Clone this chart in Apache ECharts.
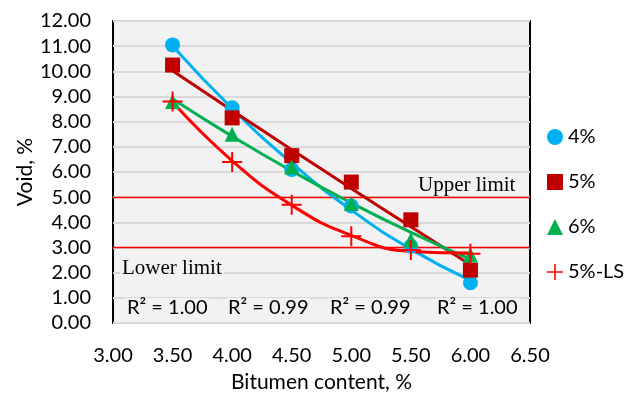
<!DOCTYPE html>
<html><head><meta charset="utf-8">
<script src="https://cdn.jsdelivr.net/npm/echarts@6/dist/echarts.min.js"></script>
<style>html,body{margin:0;padding:0;background:#fff}#c{width:630px;height:398px}</style>
</head><body><div id="c"></div>
<script>
const bitumen = [3.5, 4.0, 4.5, 5.0, 5.5, 6.0];
const void4 = [11.05, 8.55, 6.1, 4.65, 3.05, 1.6];
const void5 = [10.25, 8.15, 6.65, 5.6, 4.1, 2.1];
const void6 = [8.8, 7.5, 6.2, 4.75, 3.3, 2.7];
const void5LS = [8.8, 6.4, 4.7, 3.45, 2.9, 2.75];
const seriesNames = ['4%', '5%', '6%', '5%-LS'];
const r2Labels = ['R² = 1.00', 'R² = 0.99', 'R² = 0.99', 'R² = 1.00'];
const limits = [5, 3];
const limitLabels = ['Upper limit', 'Lower limit'];

function polyfit2(xs, ys) {
  let n = xs.length, sx=0, sx2=0, sx3=0, sx4=0, sy=0, sxy=0, sx2y=0;
  for (let i=0;i<n;i++){const x=xs[i],y=ys[i];sx+=x;sx2+=x*x;sx3+=x*x*x;sx4+=x*x*x*x;sy+=y;sxy+=x*y;sx2y+=x*x*y;}
  const A=[[n,sx,sx2,sy],[sx,sx2,sx3,sxy],[sx2,sx3,sx4,sx2y]];
  for(let i=0;i<3;i++){for(let k=i+1;k<3;k++){const f=A[k][i]/A[i][i];for(let j=i;j<4;j++)A[k][j]-=f*A[i][j];}}
  const c=[0,0,0];
  for(let i=2;i>=0;i--){let s=A[i][3];for(let j=i+1;j<3;j++)s-=A[i][j]*c[j];c[i]=s/A[i][i];}
  return xs.map(x=>[x, c[0]+c[1]*x+c[2]*x*x]);
}

const colors = ['#00b0f0', '#c00000', '#00b050', '#ff0000'];
const symbols = ['circle', 'rect', 'triangle', 'path://M9,0 H11 V9 H20 V11 H11 V20 H9 V11 H0 V9 H9 Z'];
const sizes = [15, 15, 15, 20];
const allData = [void4, void5, void6, void5LS];

const chart = echarts.init(document.getElementById('c'));
const series = [];
allData.forEach((d, i) => {
  series.push({
    type: 'line', name: 'fit' + i, data: polyfit2(bitumen, d), smooth: true,
    showSymbol: false, lineStyle: {color: colors[i], width: 3}, z: 2, silent: true
  });
});
allData.forEach((d, i) => {
  series.push({
    type: 'scatter', name: seriesNames[i], data: bitumen.map((x, j) => [x, d[j]]),
    symbol: symbols[i], symbolSize: sizes[i], itemStyle: {color: colors[i], opacity: 1}, z: 3 + i
  });
});
series.push({
  type: 'scatter', name: 'limits', data: [], silent: true, z: 1,
  markLine: {
    symbol: 'none', silent: true, animation: false, z: 1,
    lineStyle: {color: '#ff0000', width: 1.3, type: 'solid', opacity: 1},
    label: {show: false},
    data: limits.map(v => ({yAxis: v}))
  }
});

const font = 'Lato, "Open Sans", sans-serif';
const bg = '#f2f2f2';
const txt = (s, x, y, f) => ({type: 'text', x: x, y: y, z: 20,
  style: {text: s, font: f, fill: '#000', textVerticalAlign: 'middle', backgroundColor: bg, padding: [0, 2]}});
chart.setOption({
  animation: false,
  grid: {left: 113, right: 100, top: 21, bottom: 73, show: true, backgroundColor: bg, borderColor: '#000', borderWidth: 2},
  xAxis: {
    type: 'value', min: 3, max: 6.5, interval: 0.5,
    name: 'Bitumen content, %', nameLocation: 'middle', nameGap: 49, nameMoveOverlap: false,
    nameTextStyle: {fontSize: 21, color: '#000', fontFamily: font},
    axisLine: {show: false}, axisTick: {show: false}, splitLine: {show: false},
    axisLabel: {formatter: v => v.toFixed(2), fontSize: 20, color: '#000', fontFamily: font, margin: 23}
  },
  yAxis: {
    type: 'value', min: 0, max: 12, interval: 1,
    name: 'Void, %', nameLocation: 'middle', nameGap: 77, nameMoveOverlap: false,
    nameTextStyle: {fontSize: 21, color: '#000', fontFamily: font},
    axisLine: {show: false}, axisTick: {show: false},
    splitLine: {lineStyle: {color: '#d9d9d9', width: 2}},
    axisLabel: {formatter: v => v.toFixed(2), fontSize: 20, color: '#000', fontFamily: font, margin: 22}
  },
  legend: {
    data: seriesNames, orient: 'vertical', left: 542, top: 122, itemGap: 25,
    itemWidth: 16, itemHeight: 16,
    textStyle: {fontSize: 20, color: '#000', fontFamily: font}
  },
  graphic: [
    txt(limitLabels[0], 416, 185, '21px "Liberation Serif", serif'),
    txt(limitLabels[1], 120, 268, '21px "Liberation Serif", serif'),
    txt(r2Labels[0], 125, 308, '20px ' + font),
    txt(r2Labels[1], 226, 308, '20px ' + font),
    txt(r2Labels[2], 328, 308, '20px ' + font),
    txt(r2Labels[3], 435, 308, '20px ' + font)
  ],
  series: series
});
</script></body></html>
